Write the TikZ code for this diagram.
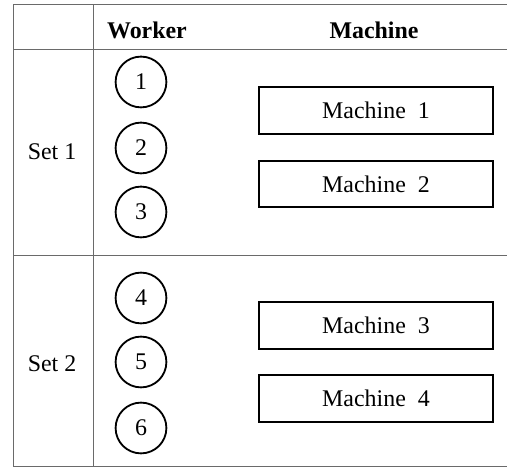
\documentclass[tikz,border=0pt]{standalone}
\usepackage{fontspec}
\setmainfont{Liberation Serif}
\usepackage{tikz}
\definecolor{rulegray}{HTML}{6A6A6A}
\tikzset{
  tabrule/.style={draw=rulegray,line width=0.7pt},
  worker/.style={circle,draw=black,line width=1.3pt,minimum size=1.27cm,inner sep=0pt},
  machine/.style={rectangle,draw=black,line width=1.3pt,minimum width=5.85cm,minimum height=1.16cm,inner sep=0pt},
  colhead/.style={font=\fontsize{17}{20}\selectfont\bfseries},
}

\begin{document}
\begin{tikzpicture}[font=\fontsize{17}{20}\selectfont]
  \useasboundingbox (0,0) rectangle (12.675,11.7);
  % table rules, open on the right
  \draw[tabrule] (12.675,11.575) -- (0.325,11.575) -- (0.325,0.05) -- (12.675,0.05);
  \draw[tabrule] (2.325,11.575) -- (2.325,0.05);
  \draw[tabrule] (0.325,10.45) -- (12.675,10.45);
  \draw[tabrule] (0.325,5.325) -- (12.675,5.325);

  % header row
  \node[colhead] (hworker)  at (3.675,10.95) {Worker};
  \node[colhead] (hmachine) at (9.35,10.95)  {Machine};

  % set labels
  \node (set1) at (1.3,7.9)  {Set 1};
  \node (set2) at (1.3,2.6)  {Set 2};

  % workers
  \node[worker] (w1) at (3.525,9.65) {1};
  \node[worker] (w2) at (3.525,8.0)  {2};
  \node[worker] (w3) at (3.525,6.4)  {3};
  \node[worker] (w4) at (3.525,4.25) {4};
  \node[worker] (w5) at (3.525,2.65) {5};
  \node[worker] (w6) at (3.525,1.0)  {6};

  % machines
  \node[machine] (m1) at (9.4,8.94) {Machine\ \ 1};
  \node[machine] (m2) at (9.4,7.1)  {Machine\ \ 2};
  \node[machine] (m3) at (9.4,3.56) {Machine\ \ 3};
  \node[machine] (m4) at (9.4,1.74) {Machine\ \ 4};
\end{tikzpicture}
\end{document}
